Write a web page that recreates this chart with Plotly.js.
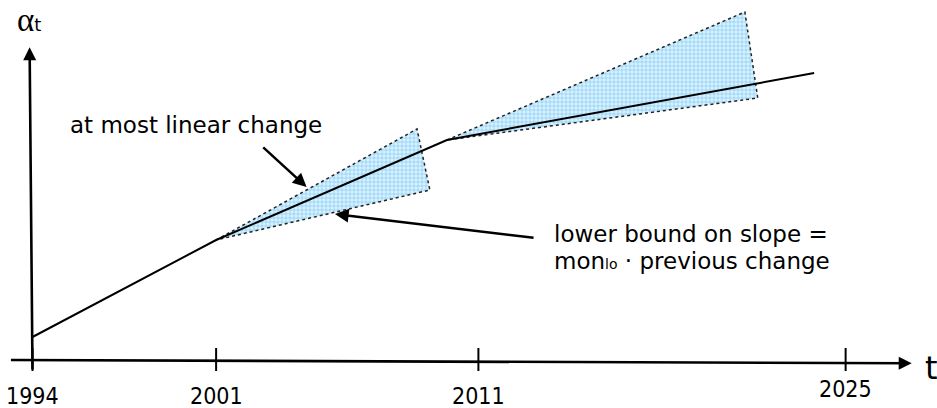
<!DOCTYPE html>
<html>
<head>
<meta charset="utf-8">
<script src="https://cdn.plot.ly/plotly-3.0.1.min.js"></script>
<style>
  html, body { margin: 0; padding: 0; background: #ffffff; }
  #chart { width: 937px; height: 408px; }
</style>
</head>
<body>
<div id="chart"></div>
<script>
// ---- data (x = year, y = alpha_t in arbitrary units) ----
const alphaYears  = [1994, 2001, 2009.8, 2023.8];
const alphaValues = [2.3, 12.0, 22.0, 28.7];

const cone1Years  = [2001, 2008.66, 2009.15, 2001];
const cone1Values = [12.0, 23.1, 17.0, 12.0];

const cone2Years  = [2009.8, 2021.16, 2021.65, 2009.8];
const cone2Values = [22.0, 34.8, 26.2, 22.0];

const tickYears  = [1994, 2001, 2011, 2025];
const tickLabels = ['1994', '2001', '2011', '2025'];

// pointer arrows: tail -> tip
const pointerTailYears  = [2002.74, 2013.16];
const pointerTailValues = [21.4, 12.2];
const pointerTipYears   = [2004.45, 2005.53];
const pointerTipValues  = [17.3, 14.6];

// axis arrows: tail -> tip
const xAxisTail = [1993.12, 0.0];
const xAxisTip  = [2027.52, -0.33];
const yAxisTail = [1994.0, -1.07];
const yAxisTip  = [1993.89, 31.27];

const textLabels = {
  upper: 'at most linear change',
  lower1: 'lower bound on slope =',
  lower2: 'mon<span style="font-size:14px">lo</span> · previous change',
  yTitle: 'α<span style="font-size:18px;font-family:DejaVu Sans">t</span>',
  xTitle: 't'
};

// ---- layout helpers ----
const W = 937, H = 408;
const px = v => v / W;
const py = v => 1 - v / H;
const mainFont = 'DejaVu Sans, Verdana, sans-serif';

const coneFill = {
  shape: '+', size: 4, solidity: 0.3,
  fgcolor: '#7fcaf3', bgcolor: '#d8f1fd', fgopacity: 1
};

const traces = [
  {
    x: cone1Years, y: cone1Values, mode: 'lines', fill: 'toself',
    fillcolor: '#c4e7fb', fillpattern: coneFill,
    line: { color: '#222222', width: 1.5, dash: 'dot' }, hoverinfo: 'skip'
  },
  {
    x: cone2Years, y: cone2Values, mode: 'lines', fill: 'toself',
    fillcolor: '#c4e7fb', fillpattern: coneFill,
    line: { color: '#222222', width: 1.5, dash: 'dot' }, hoverinfo: 'skip'
  },
  {
    x: alphaYears, y: alphaValues, mode: 'lines',
    line: { color: '#000000', width: 2 }, hoverinfo: 'skip'
  },
  {
    x: tickYears.flatMap(t => [t, t, null]),
    y: tickYears.flatMap(() => [1.2, -1.1, null]),
    mode: 'lines', line: { color: '#000000', width: 2 }, hoverinfo: 'skip'
  }
];

const arrowStyle = {
  text: '', showarrow: true, arrowhead: 2, arrowsize: 1.0, arrowwidth: 2.6,
  arrowcolor: '#000000', standoff: 0, startstandoff: 0,
  xref: 'x', yref: 'y', axref: 'x', ayref: 'y'
};

const annotations = [];
annotations.push(Object.assign({}, arrowStyle, { x: xAxisTip[0], y: xAxisTip[1], ax: xAxisTail[0], ay: xAxisTail[1] }));
annotations.push(Object.assign({}, arrowStyle, { x: yAxisTip[0], y: yAxisTip[1], ax: yAxisTail[0], ay: yAxisTail[1] }));
pointerTipYears.forEach((t, i) => {
  annotations.push(Object.assign({}, arrowStyle, {
    x: t, y: pointerTipValues[i], ax: pointerTailYears[i], ay: pointerTailValues[i], arrowwidth: 2.5, arrowsize: 1.1
  }));
});

tickYears.forEach((t, i) => {
  annotations.push({
    x: t, xref: 'x', y: py(t === 2025 ? 389 : 396), yref: 'paper',
    text: tickLabels[i], showarrow: false, xanchor: 'center', yanchor: 'middle',
    font: { family: 'DejaVu Sans Condensed, DejaVu Sans, sans-serif', size: 23, color: '#000' }
  });
});

const textStyle = { showarrow: false, xref: 'paper', yref: 'paper', xanchor: 'left', yanchor: 'middle',
  font: { family: mainFont, size: 23, color: '#000' } };
annotations.push(Object.assign({}, textStyle, { x: px(68), y: py(125), text: textLabels.upper }));
annotations.push(Object.assign({}, textStyle, { x: px(552), y: py(234), text: textLabels.lower1 }));
annotations.push(Object.assign({}, textStyle, { x: px(552), y: py(261), text: textLabels.lower2 }));
annotations.push({ showarrow: false, xref: 'paper', yref: 'paper', xanchor: 'center', yanchor: 'middle',
  x: px(29), y: py(20), text: textLabels.yTitle,
  font: { family: 'Liberation Serif, DejaVu Serif, serif', size: 33, color: '#000' } });
annotations.push({ showarrow: false, xref: 'paper', yref: 'paper', xanchor: 'center', yanchor: 'middle',
  x: px(931), y: py(368), text: textLabels.xTitle,
  font: { family: mainFont, size: 32, color: '#000' } });

const layout = {
  width: W, height: H,
  margin: { l: 0, r: 0, t: 0, b: 0, pad: 0 },
  paper_bgcolor: '#ffffff', plot_bgcolor: '#ffffff',
  showlegend: false,
  xaxis: { range: [1992.761, 2028.484], visible: false, fixedrange: true },
  yaxis: { range: [-4.8, 36], visible: false, fixedrange: true },
  annotations: annotations
};

Plotly.newPlot('chart', traces, layout, { staticPlot: true, displayModeBar: false });
</script>
</body>
</html>
